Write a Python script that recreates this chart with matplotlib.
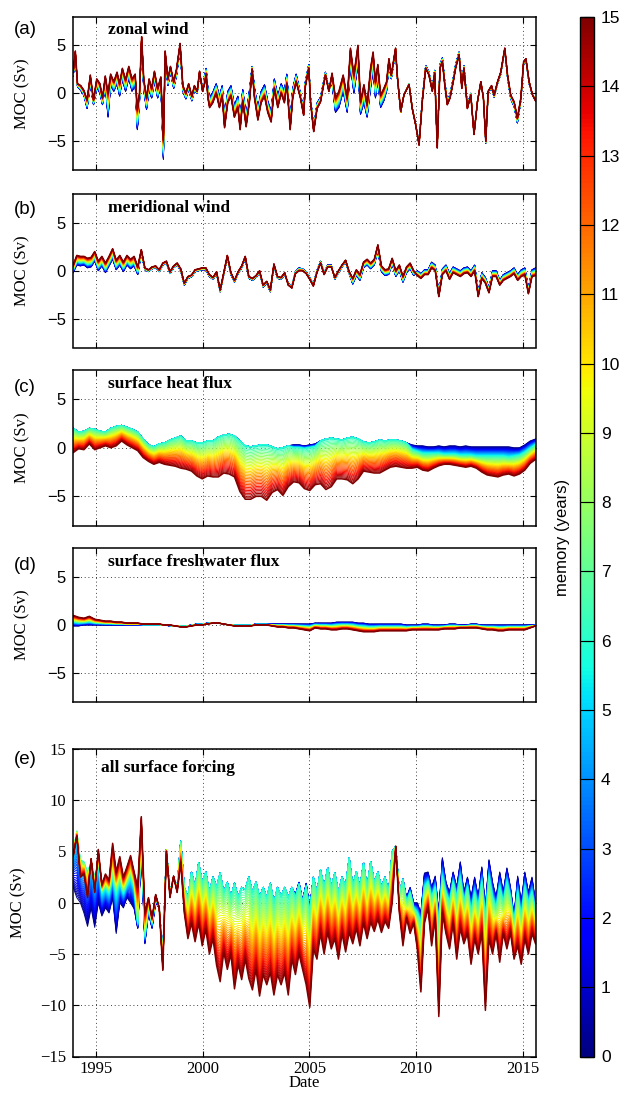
import numpy as np
import matplotlib
matplotlib.use("Agg")
import matplotlib.pyplot as plt
from matplotlib import colors, cm

# ---------------- data ----------------
MEMORY_TICKS = list(range(16))
PANEL_LETTERS = ["(a)", "(b)", "(c)", "(d)", "(e)"]
PANEL_TITLES = ["zonal wind", "meridional wind", "surface heat flux",
                "surface freshwater flux", "all surface forcing"]
YEAR_TICKS = [1995, 2000, 2005, 2010, 2015]

# (a) zonal wind: sample times, memory 15 (dark red) and memory 0 (blue) lines
A_T = [1993.95, 1994.05, 1994.15, 1994.30, 1994.45, 1994.60, 1994.75, 1994.90,
       1995.05, 1995.20, 1995.32, 1995.45, 1995.58, 1995.70, 1995.85,
       1996.00, 1996.12, 1996.25, 1996.40, 1996.55, 1996.70, 1996.85, 1996.95,
       1997.05, 1997.15, 1997.25, 1997.38, 1997.50, 1997.62, 1997.75, 1997.90,
       1998.05, 1998.17, 1998.25, 1998.38, 1998.50, 1998.65, 1998.78, 1998.95,
       1999.08, 1999.22, 1999.35, 1999.50, 1999.62, 1999.75, 1999.86,
       2000.00, 2000.10, 2000.17, 2000.25, 2000.33, 2000.48, 2000.64, 2000.79, 2000.92,
       2001.03, 2001.18, 2001.33, 2001.49, 2001.65, 2001.76, 2001.88,
       2002.04, 2002.20, 2002.32, 2002.43, 2002.59, 2002.74, 2002.90,
       2003.05, 2003.21, 2003.36, 2003.52, 2003.68, 2003.83, 2003.94,
       2004.10, 2004.22, 2004.38, 2004.58, 2004.73, 2004.81, 2004.97,
       2005.05, 2005.20, 2005.36, 2005.52, 2005.75, 2005.91,
       2006.06, 2006.22, 2006.38, 2006.58, 2006.77, 2006.92,
       2007.08, 2007.27, 2007.39, 2007.55, 2007.70, 2007.86, 2007.98,
       2008.09, 2008.20, 2008.33, 2008.48, 2008.61, 2008.72, 2008.83,
       2009.03, 2009.11, 2009.27, 2009.42, 2009.66, 2009.81, 2009.97,
       2010.13, 2010.28, 2010.44, 2010.59, 2010.75, 2010.86, 2010.98,
       2011.11, 2011.22, 2011.33, 2011.45, 2011.58, 2011.73, 2011.84,
       2012.00, 2012.13, 2012.23, 2012.39, 2012.55, 2012.70, 2012.86,
       2013.02, 2013.14, 2013.25, 2013.36, 2013.52, 2013.64, 2013.80, 2013.95,
       2014.14, 2014.27, 2014.42, 2014.58, 2014.73, 2014.89,
       2015.02, 2015.13, 2015.28, 2015.44, 2015.58]
A_M15 = [2.2, 4.4, 1.0, 0.8, 0.3, -0.7, 1.9, -0.7,
         1.5, 1.0, -0.5, 1.8, 0.0, 2.0, 1.2,
         2.2, 1.0, 2.6, 1.4, 2.8, 1.5, 2.0, -1.7,
         0.0, 5.9, 1.5, -0.5, 1.5, 0.5, 2.3, 0.5,
         1.7, -4.9, 4.4, 1.5, 2.8, 1.2, 2.5, 5.2,
         0.8, 0.0, 1.0, -0.3, 0.8, 0.2, 2.3,
         0.2, 1.0, 2.0, -0.5, -1.5, -1.0, 0.0, -1.5, -0.3,
         -3.6, -1.0, -0.3, -2.5, -1.5, -3.8, -0.8,
         -3.5, -0.8, 2.5, -0.5, -2.8, -1.0, -0.3,
         -2.0, -3.0, 0.5, -1.5, 0.0, -1.0, 1.0,
         -3.8, -0.5, 1.2, -0.5, -2.3, 0.7, 2.6,
         -0.9, -4.0, -1.6, -0.9, 1.9, 0.2,
         2.1, -0.5, 0.2, 1.9, -0.5, 4.7,
         1.9, 5.0, -0.9, 0.9, -1.2, 2.6, 4.3,
         1.2, 3.0, -0.2, 0.5, 1.2, 3.6, 1.9,
         4.7, 1.9, -1.9, -0.2, 0.9, -1.6, -3.3,
         -5.4, -0.9, 2.6, 1.9, 0.2, 2.1, -5.7,
         2.6, 3.3, 0.9, -1.2, -0.5, 1.2, 2.6,
         4.0, 0.5, 2.6, -1.6, -0.2, -4.3, -0.9,
         1.2, -0.5, -5.0, 0.2, 0.8, -0.2, 1.2, 2.2,
         4.7, 1.9, -0.2, -0.9, -2.6, -0.5,
         3.3, 3.6, 1.2, -0.2, -0.8]
A_M0 = [1.8, 3.8, 0.7, 0.3, -0.2, -1.6, 0.9, -1.2,
        0.6, 0.0, -1.2, 0.8, -2.5, 0.8, 0.2,
        1.0, -0.3, 1.4, 0.2, 1.6, 0.2, 0.8, -3.8,
        -1.0, 5.6, 0.3, -1.7, 0.3, -0.5, 1.2, -0.5,
        0.8, -6.9, 3.8, 0.8, 2.2, 0.5, 1.8, 4.6,
        0.2, -0.6, 0.4, -0.8, 0.3, 0.0, 2.0,
        0.6, 1.8, 2.6, 0.5, -0.4, 0.1, 1.0, -0.3, 0.8,
        -2.4, 0.2, 0.8, -1.3, -0.3, -2.6, 0.4,
        -2.3, 0.4, 2.8, 0.6, -1.6, 0.2, 0.9,
        -0.8, -1.8, 1.5, -0.3, 1.0, 0.2, 2.0,
        -2.8, 0.5, 2.0, 0.0, -1.8, 1.2, 3.0,
        -0.4, -3.6, -1.0, -0.4, 2.2, 0.4,
        1.0, -2.0, -1.5, 0.2, -2.0, 3.0,
        0.0, 3.0, -2.2, -1.0, -2.5, 0.5, 2.5,
        -0.5, 1.5, -1.5, -0.8, 0.2, 3.0, 1.5,
        4.4, 1.7, -2.0, -0.2, 1.0, -1.5, -3.2,
        -5.2, -0.6, 2.9, 2.2, 0.5, 2.4, -5.4,
        3.0, 3.7, 1.3, -0.8, -0.1, 1.6, 3.0,
        4.3, 0.9, 2.9, -1.3, 0.0, -4.3, -0.9,
        1.2, -0.5, -5.2, 0.0, 0.6, -0.4, 1.0, 2.0,
        4.5, 1.6, -0.6, -1.4, -3.1, -0.8,
        3.0, 3.4, 1.0, -0.2, -0.5]

# (b) meridional wind, two-monthly samples
B_M15 = [0.6, 1.6, 1.5, 1.5, 1.3, 1.4, 2.0, 1.0, 1.5, 0.8, 1.5, 2.3, 1.1, 1.6, 0.9, 1.6, 1.2, 1.5, 0.4,
         2.2, 0.3, 0.1, 0.4, 0.5, 0.1, 0.8, 1.0, -0.1, 0.5, 0.8, 0.2, -1.3, -0.6, -0.45, 0.1, 0.2, 0.3,
         0.3, -0.4, -0.7, -0.1, -2.0, -0.2, 1.6, -0.2, -1.0, -0.1, 0.5, 1.5, -0.6, -0.8, -0.5, 0.0,
         -1.5, -1.1, -2.0, 0.7, -0.6, -0.7, -0.2,
         -1.5, -1.8, -0.3, 0.0, 0.0, -0.3, -0.9, -1.6, -0.2, 0.8, -0.4, 0.4, 0.4, -0.7, 0.0, 0.6, 1.1, -0.1,
         -0.8, 0.1, -0.4, 0.9, 1.2, 0.8, 1.2, 2.7, 0.5, 0.1, 0.2, 1.3, 0.0, 0.6, -0.6, 0.4, 0.8, 0.0,
         -0.5, -0.8, -0.4, -0.4, 0.3, 0.0, -2.7, -0.4, 0.0, -0.9, -0.2, -0.4, -0.6, -0.3, -0.2, -0.6,
         0.0, -2.7, -0.8, -1.3, -2.3, -0.6, -0.6, -1.5, -1.0, -0.8, -0.6, -0.3, -1.0, -0.6, -0.4, -2.4,
         -0.6, -0.5]
B_M0 = [-0.2, 0.6, 0.5, 0.6, 0.3, 0.4, 1.0, 0.0, 0.5, -0.2, 0.5, 1.2, 0.1, 0.6, -0.1, 0.6, 0.2, 0.5, -0.4,
        1.8, 0.1, -0.1, 0.2, 0.3, -0.1, 0.6, 0.8, -0.3, 0.3, 0.6, 0.0, -1.5, -0.8, -0.65, -0.1, 0.0, 0.1,
        0.1, -0.6, -0.9, -0.3, -2.2, -0.4, 1.4, -0.4, -1.2, -0.3, 0.3, 1.3, -0.8, -1.0, -0.7, -0.2,
        -1.7, -1.3, -2.2, 0.5, -0.8, -0.9, -0.4,
        -1.3, -1.6, -0.1, 0.3, 0.2, -0.1, -0.7, -1.4, 0.0, 1.0, -0.2, 0.6, 0.6, -0.9, -0.2, 0.4, 0.9, -0.3,
        -1.4, -0.5, -1.0, 0.3, 0.6, 0.2, 0.6, 2.1, -0.1, -0.5, -0.4, 0.7, -0.6, 0.0, -1.2, -0.2, 0.2, -0.5,
        0.0, -0.3, 0.1, 0.1, 0.9, 0.6, -2.3, 0.2, 0.6, -0.3, 0.4, 0.2, 0.0, 0.3, 0.4, 0.0,
        0.6, -2.2, -0.2, -0.7, -1.8, 0.0, 0.0, -1.0, -0.4, -0.2, 0.0, 0.3, -0.4, 0.1, 0.3, -1.8,
        0.1, 0.3]

# (c) surface heat flux, quarterly samples: memory 0, 6 and 15
C_M0 = [2.0, 1.6, 1.7, 2.0, 1.9, 1.7, 1.6, 2.0, 2.2, 2.3, 2.1, 1.9, 1.6, 0.9, 0.3, 0.1, 0.4, 0.5, 0.8, 1.0,
        1.2, 0.7, 0.7, 0.5, 0.5, 0.7, 0.7, 1.1, 1.3, 1.4, 1.2, 0.7, 0.2, 0.1, 0.2, 0.3, 0.3, 0.1, -0.1, 0.0,
        0.2, 0.3, 0.3, 0.2, 0.3, 0.4,
        0.7, 0.9, 1.0, 0.9, 0.8, 1.0, 1.1, 0.9, 0.6, 0.5, 0.6, 0.8, 0.7, 0.8, 0.8, 0.7, 0.5,
        0.3, 0.2, 0.2, 0.1, 0.1, 0.2, 0.1, 0.2, 0.2, 0.1, 0.2, 0.1, 0.1, 0.1, 0.1, 0.1, 0.1, 0.1, 0.1,
        0.0, 0.0, 0.3, 0.7, 0.9]
C_M6 = [2.0, 1.6, 1.7, 2.0, 1.9, 1.7, 1.6, 2.0, 2.2, 2.3, 2.1, 1.9, 1.6, 0.9, 0.3, 0.1, 0.4, 0.5, 0.8, 1.0,
        1.2, 0.7, 0.7, 0.5, 0.5, 0.7, 0.7, 1.1, 1.3, 1.4, 1.2, 0.7, 0.2, 0.1, 0.2, 0.3, 0.3, 0.1, -0.1, 0.0,
        0.2, 0.0, 0.0, -0.1, 0.0, 0.1,
        0.7, 0.9, 1.0, 0.9, 0.8, 1.0, 1.1, 0.9, 0.6, 0.5, 0.6, 0.8, 0.7, 0.8, 0.8, 0.7, 0.5,
        -0.2, -0.4, -0.6, -0.6, -0.6, -0.6, -0.7, -0.7, -0.7, -0.8, -0.8, -0.8, -0.9, -0.9, -0.9, -0.9,
        -0.9, -0.9, -1.0, -0.9, -0.8, -0.5, -0.1, 0.3]
C_M15 = [-0.5, -0.1, -0.2, 0.4, -0.2, 0.0, 0.2, 0.0, 0.2, 0.7,
         0.3, 0.0, -0.3, -1.0, -1.4, -1.7, -1.5, -1.7, -1.8, -1.9,
         -2.1, -2.2, -2.4, -2.9, -3.2, -2.9, -3.0, -3.0, -2.6, -2.7,
         -3.0, -4.5, -5.3, -5.3, -5.0, -5.0, -5.4, -4.6, -4.3, -4.9,
         -4.0, -3.5, -3.6, -4.2, -4.4, -3.8, -3.7, -4.3, -4.0, -3.2,
         -3.2, -3.3, -3.7, -3.2, -2.4, -2.5, -2.6, -2.6, -2.3, -2.0,
         -1.9, -2.0, -2.1, -2.1, -2.0, -2.3, -2.4, -2.1, -1.85, -1.7,
         -1.7, -1.8, -1.9, -2.0, -1.9, -2.1, -2.5, -2.8, -2.9, -3.0,
         -2.8, -2.7, -2.9, -2.7, -2.3, -1.6, -1.2]

# (d) surface freshwater flux, quarterly samples
D_M0 = [-0.1, -0.1, 0.0, 0.0, 0.0, 0.0, 0.0, 0.0, 0.0, 0.0, 0.0, 0.0, 0.0, 0.0, 0.0, 0.0,
        0.0, 0.0, -0.1, -0.1, -0.1, -0.1, 0.0, 0.1, 0.1, 0.2, 0.2, 0.2, 0.1, 0.0, 0.0, 0.0,
        0.0, 0.0, 0.1, 0.1, 0.1, 0.1, 0.1, 0.1, 0.1, 0.1, 0.1, 0.1, 0.1, 0.2, 0.2, 0.2,
        0.2, 0.3, 0.3, 0.3, 0.3, 0.2, 0.2, 0.1, 0.1, 0.1, 0.1, 0.1, 0.1, 0.1, 0.0, 0.0,
        0.0, 0.1, 0.1, 0.0, 0.0, 0.0, 0.1, 0.1, 0.0, 0.0, 0.1, 0.1, 0.0, 0.0, 0.0, 0.0,
        0.0, 0.0, 0.0, 0.0, 0.0, 0.0, 0.0]
D_M15 = [1.0, 0.8, 0.7, 0.9, 0.6, 0.5, 0.4, 0.4, 0.3, 0.3, 0.2, 0.2, 0.2, 0.1, 0.1, 0.1,
         0.1, 0.0, 0.0, -0.1, -0.2, -0.2, -0.1, 0.0, 0.0, 0.1, 0.2, 0.2, 0.1, 0.0, -0.1, -0.1,
         -0.1, -0.1, 0.0, 0.0, 0.0, -0.1, -0.2, -0.2, -0.3, -0.3, -0.4, -0.5, -0.6, -0.3, -0.4, -0.4,
         -0.5, -0.5, -0.4, -0.4, -0.5, -0.6, -0.7, -0.7, -0.7, -0.6, -0.6, -0.6, -0.6, -0.6, -0.6, -0.5,
         -0.5, -0.5, -0.5, -0.5, -0.5, -0.4, -0.4, -0.4, -0.3, -0.3, -0.3, -0.3, -0.4, -0.5, -0.5, -0.6,
         -0.6, -0.5, -0.5, -0.5, -0.5, -0.3, -0.1]

# (e) all surface forcing, two-monthly samples: memory 0, 6 and 15
E_M0 = [1.5, 0.5, 0.0, -1.0, -2.3, -0.5,
        -2.4, 0.0, -1.3, -0.5, -1.0, 0.5,
        -3.0, 0.0, -0.5, 0.5, 0.0, -0.6,
        -2.5, 5.0, -4.0, -1.0, -2.5, 0.0,
        -0.5, -5.0, 5.2, 1.0, 2.5, 1.5,
        6.0, 1.5, 0.5, 3.0, 1.5, 3.9,
        2.0, 3.0, 1.0, 2.5, 1.5, 2.9,
        1.0, 2.0, 0.5, 1.9, 0.5, 1.5,
        1.3, 2.5, 1.0, 2.0, 0.5, 1.5,
        0.5, 1.9, 0.0, 1.5, 0.6, 1.5,
        0.5, 1.5, 0.8, 2.0, 0.2, 1.9,
        -0.5, 2.5, 1.0, 3.2, 1.5, 3.4,
        1.5, 2.9, 1.0, 2.5, 1.6, 4.4,
        1.6, 3.0, 1.5, 3.9, 1.5, 4.0,
        2.0, 3.0, 1.5, 2.5, 1.0, 5.0,
        5.5, 1.0, 2.3, 0.5, 1.5, 0.0,
        0.0, -1.0, 2.9, 3.0, 1.5, 2.6,
        -1.0, 4.4, 2.0, 1.0, 3.0, 1.5,
        4.0, 1.0, 2.5, 0.5, 2.5, 0.5,
        3.5, -0.5, 4.2, 2.0, 0.5, 3.0,
        1.0, 3.4, 1.5, -1.3, 2.6, 0.0,
        3.0, 1.0, 2.5, 0.0]
E_M6 = [5.0, 7.0, 4.2, 4.0, 3.0, 4.0,
        2.5, 4.0, 1.0, 1.5, 1.0, 2.5,
        1.0, 2.0, 1.0, 1.8, 2.5, 1.5,
        -2.0, 6.5, -3.2, -0.5, -2.0, 0.5,
        -0.5, -5.0, 5.2, 1.0, 2.5, 1.5,
        6.0, 1.5, 0.5, 3.0, 1.5, 3.9,
        2.0, 3.0, 1.0, 2.5, 1.5, 2.9,
        1.0, 2.0, 0.5, 1.9, 0.5, 1.5,
        1.3, 2.5, 1.0, 2.0, 0.5, 1.5,
        0.5, 1.9, 0.0, 1.5, 0.6, 1.5,
        0.5, 1.5, 0.5, 1.8, 0.0, 1.6,
        -1.0, 2.5, 1.0, 3.2, 1.5, 3.4,
        1.5, 2.9, 1.0, 2.5, 1.6, 4.4,
        1.6, 3.0, 1.5, 3.9, 1.5, 4.0,
        2.0, 3.0, 1.5, 2.5, 1.0, 5.0,
        5.5, 1.0, 2.3, 0.0, 1.0, -0.5,
        -1.0, -2.0, 1.5, 2.0, 0.5, 1.5,
        -2.0, 2.5, 1.0, 0.0, 2.0, 0.5,
        2.5, 0.0, 1.5, -1.0, 1.0, -0.5,
        2.0, -1.5, 2.5, 0.5, -0.5, 1.5,
        0.0, 2.0, 0.5, -2.0, 1.0, -1.5,
        1.5, 0.0, 1.0, -1.0]
E_M15 = [4.5, 6.5, 2.5, 2.8, 0.5, 4.3,
         1.0, 5.2, 1.8, 2.8, 2.2, 5.8,
         3.0, 4.5, 2.5, 3.5, 4.6, 3.0,
         1.5, 8.4, -1.0, 0.5, -1.5, 0.8,
         -0.5, -6.6, 5.0, 0.5, 2.6, 1.0,
         3.9, -1.0, -3.5, -2.0, -3.8, -2.0,
         -4.2, -2.6, -5.0, -3.5, -6.1, -7.7,
         -4.8, -6.5, -5.0, -8.4, -6.0, -7.5,
         -5.5, -7.4, -8.5, -6.5, -9.1, -7.0,
         -8.0, -6.8, -9.0, -7.0, -8.0, -6.8,
         -9.0, -5.5, -7.0, -5.0, -6.5, -8.0,
         -10.2, -4.5, -5.5, -3.0, -5.0, -2.9,
         -4.5, -3.5, -5.5, -3.0, -4.8, -2.9,
         -4.0, -2.5, -4.2, -2.0, -3.5, -1.9,
         -2.8, -1.6, -2.9, -1.8, -2.5, 0.0,
         5.5, -1.0, -4.2, -1.5, -3.0, -2.0,
         -4.5, -8.7, -2.0, -0.5, -4.2, -1.5,
         -11.1, -1.0, -3.0, -4.5, -2.0, -5.5,
         -2.5, -4.0, -3.0, -6.0, -3.5, -5.0,
         -2.9, -10.5, -3.5, -5.0, -3.0, -5.8,
         -3.0, -4.5, -2.9, -5.5, -4.2, -6.0,
         -3.5, -5.0, -3.0, -4.0]

# sampling times of the regularly sampled panels
T_START, T_END = 1993.95, 2015.58
T_2M = np.linspace(T_START, T_END, len(B_M15))
T_Q = np.linspace(T_START, T_END, len(C_M15))

# ---------------- drawing ----------------
W, H = 621, 1094
fig = plt.figure(figsize=(W / 100, H / 100), dpi=100)
SERIF = ["Liberation Serif", "DejaVu Serif"]
SANS = ["Liberation Sans", "DejaVu Sans"]

cmap = plt.get_cmap("jet")
norm = colors.Normalize(0, 15)
MEM_LEVELS = np.arange(0, 15.001, 0.25)


def fan(ax, t, anchors):
    ms = sorted(anchors)
    ys = [np.asarray(anchors[m], float) for m in ms]
    t = np.asarray(t, float)
    for m in MEM_LEVELS:
        i = int(np.searchsorted(ms, m, side="right") - 1)
        i = max(0, min(i, len(ms) - 2))
        w = (m - ms[i]) / (ms[i + 1] - ms[i])
        y = (1 - w) * ys[i] + w * ys[i + 1]
        lw = 1.1 if m >= 14.9 else 0.7
        ax.plot(t, y, color=cmap(norm(m)), lw=lw)


def add_axes(top, bottom):
    left, right = 73, 536
    return fig.add_axes([left / W, 1 - bottom / H, (right - left) / W, (bottom - top) / H])


boxes = [(16.5, 170.0), (194.0, 347.5), (370.0, 525.5), (548.0, 702.0), (749.0, 1056.5)]
letter_y = [30, 209, 387, 566, 760]
datasets = [
    (A_T, {0: A_M0, 15: A_M15}),
    (T_2M, {0: B_M0, 15: B_M15}),
    (T_Q, {0: C_M0, 6: C_M6, 15: C_M15}),
    (T_Q, {0: D_M0, 15: D_M15}),
    (T_2M, {0: E_M0, 6: E_M6, 15: E_M15}),
]

for idx, ((top, bottom), (t, anchors)) in enumerate(zip(boxes, datasets)):
    ax = add_axes(top, bottom)
    fan(ax, t, anchors)
    ax.set_xlim(1993.94, 2015.6)
    ax.set_xticks(YEAR_TICKS)
    last = idx == 4
    if last:
        ax.set_ylim(-15, 15)
        ax.set_yticks([-15, -10, -5, 0, 5, 10, 15])
        ax.set_xticklabels([str(y) for y in YEAR_TICKS], family=SERIF, fontsize=12)
        for lab in ax.get_yticklabels():
            lab.set_family(SERIF)
            lab.set_fontsize(12)
        ax.set_xlabel("Date", family=SERIF, fontsize=12, labelpad=-1)
        ax.set_ylabel("MOC (Sv)", family=SERIF, fontsize=12)
        ax.yaxis.set_label_coords(-0.10, 0.5)
        title_xy = (0.06, 0.938)
    else:
        ax.set_ylim(-8, 8)
        ax.set_yticks([-5, 0, 5])
        ax.set_xticklabels([])
        for lab in ax.get_yticklabels():
            lab.set_family(SANS)
            lab.set_fontsize(12)
        ax.set_ylabel("MOC (Sv)", family=SERIF, fontsize=12)
        ax.yaxis.set_label_coords(-0.093, 0.5)
        title_xy = (0.075, 0.91)
    ax.grid(True, color="black", linestyle=(0, (1, 3.5)), linewidth=0.6)
    ax.tick_params(direction="in", top=True, right=True, length=4, width=0.8, pad=5)
    if last:
        ax.tick_params(axis="x", pad=3)
    for s in ax.spines.values():
        s.set_linewidth(1.1)
    ax.text(title_xy[0], title_xy[1], PANEL_TITLES[idx], transform=ax.transAxes,
            family=SERIF, fontweight="bold", fontsize=12.5, ha="left", va="center")
    fig.text(25 / W, 1 - letter_y[idx] / H, PANEL_LETTERS[idx], family=SANS,
             fontsize=13.5, ha="center", va="center")

# colorbar
cax = fig.add_axes([580 / W, 1 - 1056.5 / H, 14 / W, (1056.5 - 17) / H])
sm = cm.ScalarMappable(norm=norm, cmap=cmap)
cb = fig.colorbar(sm, cax=cax, ticks=MEMORY_TICKS)
cb.outline.set_linewidth(1.0)
cax.tick_params(direction="in", length=7, width=0.8, left=True, right=True, labelsize=12.5, pad=5)
for lab in cax.get_yticklabels():
    lab.set_family(SANS)
fig.text(563 / W, 1 - 537 / H, "memory (years)", rotation=90, family=SANS,
         fontsize=12, ha="center", va="center")

fig.savefig("out.png", dpi=100)
